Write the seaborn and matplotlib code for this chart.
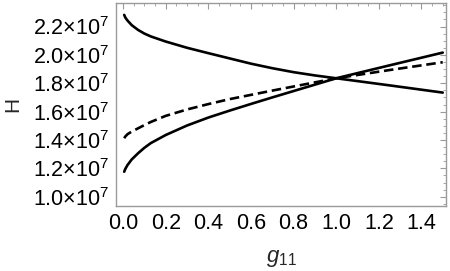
import matplotlib
matplotlib.use("Agg")
import matplotlib.pyplot as plt
import matplotlib.ticker as mticker
import numpy as np
import pandas as pd
import seaborn as sns

# values (H in units of 1e7)
g11 = [0.005, 0.01, 0.02, 0.04, 0.07, 0.1, 0.13, 0.2, 0.3, 0.4, 0.5, 0.6, 0.7, 0.8, 0.9, 1.0, 1.25, 1.5]
h_falling = [2.282, 2.264, 2.243, 2.210, 2.176, 2.150, 2.130, 2.094, 2.050, 2.012, 1.975,
             1.938, 1.906, 1.878, 1.855, 1.835, 1.785, 1.734]
h_rising = [1.176, 1.195, 1.222, 1.262, 1.306, 1.345, 1.378, 1.435, 1.502, 1.558, 1.607,
            1.654, 1.700, 1.745, 1.790, 1.835, 1.926, 2.016]
h_dashed = [1.412, 1.424, 1.440, 1.459, 1.482, 1.505, 1.527, 1.570, 1.615, 1.653, 1.688,
            1.718, 1.748, 1.777, 1.806, 1.835, 1.893, 1.948]

df = pd.DataFrame({
    "g11": g11 * 3,
    "H": np.array(h_falling + h_rising + h_dashed) * 1e7,
    "curve": ["falling"] * len(g11) + ["rising"] * len(g11) + ["dashed"] * len(g11),
})

sns.set_style("white")
plt.rcParams["font.family"] = ["Liberation Sans", "DejaVu Sans"]
plt.rcParams["mathtext.fontset"] = "custom"
plt.rcParams["mathtext.rm"] = "Liberation Sans"
plt.rcParams["mathtext.it"] = "Liberation Sans:italic"

fig = plt.figure(figsize=(4.5, 2.71), dpi=100)
ax = fig.add_axes([0.258, 0.241, 0.733, 0.747])

for name, style in [("falling", "-"), ("rising", "-"), ("dashed", (0, (3.6, 1.8)))]:
    sub = df[df["curve"] == name]
    sns.lineplot(data=sub, x="g11", y="H", ax=ax, color="black",
                 linewidth=1.9, linestyle=style, legend=False)

ax.set_xlim(-0.033, 1.515)
ax.set_ylim(0.9365e7, 2.364e7)

ax.xaxis.set_major_locator(mticker.MultipleLocator(0.2))
ax.xaxis.set_minor_locator(mticker.MultipleLocator(0.05))
ax.yaxis.set_major_locator(mticker.MultipleLocator(0.2e7))
ax.yaxis.set_minor_locator(mticker.MultipleLocator(0.05e7))
ax.xaxis.set_major_formatter(mticker.FuncFormatter(lambda v, p: f"{v:.1f}"))
ax.yaxis.set_major_formatter(
    mticker.FuncFormatter(lambda v, p: f"{v / 1e7:.1f}" + "×10" + r"$^{7}$"))

frame_col = "#9a9a9a"
for s in ax.spines.values():
    s.set_color(frame_col)
    s.set_linewidth(1.0)
ax.tick_params(which="both", direction="in", top=True, right=True,
               color=frame_col, labelcolor="black", labelsize=15.5)
ax.tick_params(which="major", length=4, width=0.8, pad=5)
ax.tick_params(which="minor", length=2, width=0.6)

ax.set_xlabel(r"$\mathit{g}_{\mathrm{11}}$", fontsize=16, labelpad=10)
ax.set_ylabel("H", fontsize=15, labelpad=8)

fig.savefig("out.png", dpi=100)
